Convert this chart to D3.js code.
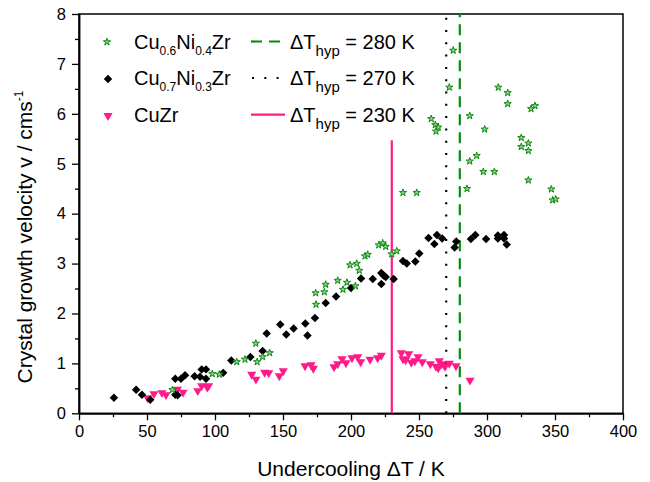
<!DOCTYPE html>
<html>
<head>
<meta charset="utf-8">
<script src="https://cdn.jsdelivr.net/npm/d3@7"></script>
<style>
  html, body { margin: 0; padding: 0; background: #fff; }
  svg { display: block; font-family: "Liberation Sans", Arial, sans-serif; }
</style>
</head>
<body>
<svg id="chart" width="650" height="482"></svg>
<script>
// ---------- data ----------
const xTicks = [0, 50, 100, 150, 200, 250, 300, 350, 400];
const yTicks = [0, 1, 2, 3, 4, 5, 6, 7, 8];

// Cu0.6Ni0.4Zr (green stars)
const cu06X = [68.7, 98, 103.2, 116, 122, 130, 131, 135, 140.2, 174, 174.3, 180.4, 181.4, 190.2, 194.1, 197, 203.2, 199.3, 204.2, 206.1, 210.3, 212.3, 220.4, 223.3, 225.5, 229.9, 233.6, 238.2, 248.3, 259, 262, 264.2, 262.5, 272.3, 275.2, 285.3, 287.3, 287.3, 292.4, 298.3, 297.3, 305.4, 308.3, 315.2, 315.2, 325.2, 325.2, 330.4, 330.4, 330.4, 332.4, 335.3, 347.3, 348.3, 350.5];
const cu06Y = [0.47, 0.79, 0.78, 1.03, 1.08, 1.40, 1.03, 1.13, 1.21, 2.41, 2.18, 2.43, 2.58, 2.66, 2.48, 2.62, 2.55, 2.97, 3.0, 2.86, 3.15, 3.18, 3.37, 3.41, 3.34, 3.19, 3.25, 4.42, 4.42, 5.90, 5.78, 5.73, 5.65, 6.53, 7.27, 4.50, 5.96, 5.05, 5.16, 5.69, 4.84, 4.84, 6.53, 6.42, 6.20, 5.52, 5.34, 5.41, 5.26, 4.67, 6.10, 6.16, 4.49, 4.27, 4.29];

// Cu0.7Ni0.3Zr (black diamonds)
const cu07X = [25.7, 42, 46.3, 52.4, 70.8, 70.8, 72.5, 75, 78, 85, 89, 90.2, 93.4, 93.4, 106, 112, 126, 135, 138, 148, 152.4, 157.8, 166.4, 168, 173.5, 181.4, 189, 200, 207.4, 216, 222.3, 224, 225.5, 222.3, 231.4, 238.2, 241, 247.3, 250.2, 257, 261.3, 263.2, 267, 276.2, 277.4, 288.2, 291.4, 299.3, 308, 308, 312.5, 312.5, 314.5];
const cu07Y = [0.31, 0.47, 0.37, 0.27, 0.69, 0.37, 0.36, 0.69, 0.76, 0.74, 0.73, 0.88, 0.88, 0.69, 0.81, 1.06, 1.13, 1.25, 1.60, 1.78, 1.58, 1.70, 1.80, 1.56, 1.91, 2.21, 2.34, 2.51, 2.70, 2.69, 2.81, 2.76, 2.73, 2.59, 2.69, 3.05, 3.0, 3.04, 3.20, 3.51, 3.39, 3.57, 3.50, 3.32, 3.44, 3.49, 3.57, 3.49, 3.56, 3.50, 3.57, 3.50, 3.38];

// CuZr (pink triangles)
const cuzrX = [50.4, 55.1, 61, 64, 72.3, 76.5, 87.3, 90.2, 94.3, 95.3, 127, 130.1, 136.5, 139.5, 147.3, 150.2, 166.2, 170.6, 172.3, 187.5, 190.2, 193.4, 196.3, 200.7, 204.9, 207.1, 214, 219.6, 222.3, 237, 242.4, 238.2, 240.2, 244.3, 247, 249.3, 252.4, 258.3, 262.5, 264.9, 264.2, 266.7, 269.1, 272.3, 277.2, 287.5];
const cuzrY = [0.31, 0.39, 0.41, 0.37, 0.48, 0.42, 0.45, 0.55, 0.52, 0.55, 0.78, 0.68, 0.82, 0.81, 0.75, 0.85, 0.95, 0.97, 0.90, 0.93, 0.99, 1.09, 1.01, 1.11, 1.13, 1.03, 1.08, 1.11, 1.16, 1.21, 1.19, 1.09, 1.07, 1.02, 1.05, 1.13, 1.03, 0.99, 0.94, 1.05, 0.91, 0.99, 0.94, 1.0, 0.95, 0.66];

// hypercooling limits
const hypT = [280, 270, 230];
const hypTop = [8, 8, 5.47];
const hypLabels = ["280 K", "270 K", "230 K"];

// ---------- layout ----------
const svg = d3.select("#chart");
const L = 79, R = 623, T = 14, B = 413.3;
const x = d3.scaleLinear().domain([0, 400]).range([L, R]);
const y = d3.scaleLinear().domain([0, 8]).range([B, T]);

const GREEN = "#0a8a0a", PINK = "#ff1a8c", BLACK = "#000";

// frame
svg.append("rect").attr("x", L).attr("y", T).attr("width", R - L).attr("height", B - T)
  .attr("fill", "none").attr("stroke", "#000").attr("stroke-width", 1.5);

// axes
const xMinor = d3.range(25, 400, 50);
const yMinor = d3.range(0.5, 8, 1);
svg.append("g").attr("transform", `translate(0,${B})`)
  .call(d3.axisBottom(x).tickValues(xTicks).tickSize(7).tickSizeOuter(0).tickPadding(5).tickFormat(d3.format("d")));
svg.append("g").attr("transform", `translate(0,${B})`)
  .call(d3.axisBottom(x).tickValues(xMinor).tickSize(4).tickSizeOuter(0).tickFormat(""));
svg.append("g").attr("transform", `translate(${L},0)`)
  .call(d3.axisLeft(y).tickValues(yTicks).tickSize(7).tickSizeOuter(0).tickPadding(6).tickFormat(d3.format("d")));
svg.append("g").attr("transform", `translate(${L},0)`)
  .call(d3.axisLeft(y).tickValues(yMinor).tickSize(4).tickSizeOuter(0).tickFormat(""));
svg.selectAll(".domain").attr("stroke", "#000").attr("stroke-width", 1.5);
svg.selectAll(".tick line").attr("stroke", "#000").attr("stroke-width", 1.3);
svg.selectAll(".tick text").attr("font-size", 16.5).attr("fill", "#000")
  .attr("font-family", "'Liberation Sans', Arial, sans-serif");

// axis titles
svg.append("text").attr("x", (L + R) / 2).attr("y", 476).attr("text-anchor", "middle")
  .attr("font-size", 21).text("Undercooling \u0394T / K");
const yt = svg.append("text").attr("transform", "translate(32,237) rotate(-90)")
  .attr("text-anchor", "middle").attr("font-size", 21);
yt.append("tspan").text("Crystal growth velocity v / cms");
yt.append("tspan").attr("dy", -9).attr("font-size", 12).text("-1");

// vertical hypercooling lines
const hypStyle = [
  { color: GREEN, dash: "11,7", w: 2.2 },
  { color: BLACK, dash: "2,10.3", w: 2.2 },
  { color: PINK, dash: null, w: 2.2 }
];
hypT.forEach((t, i) => {
  svg.append("line").attr("x1", x(t)).attr("x2", x(t)).attr("y1", y(0)).attr("y2", y(hypTop[i]))
    .attr("stroke", hypStyle[i].color).attr("stroke-width", hypStyle[i].w)
    .attr("stroke-dasharray", hypStyle[i].dash);
});

// markers
const star = d3.symbol().type(d3.symbolStar).size(16);
const diamond = d3.symbol().type(d3.symbolSquare).size(36);
const tri = d3.symbol().type(d3.symbolTriangle).size(36);

function drawStar(g, px, py) {
  g.append("path").attr("d", star()).attr("transform", `translate(${px},${py})`)
    .attr("fill", "#8fcf8f").attr("stroke", GREEN).attr("stroke-width", 1);
}
function drawDiamond(g, px, py) {
  g.append("path").attr("d", diamond()).attr("transform", `translate(${px},${py}) rotate(45)`)
    .attr("fill", "#000");
}
function drawTri(g, px, py) {
  g.append("path").attr("d", tri()).attr("transform", `translate(${px},${py}) rotate(180)`)
    .attr("fill", PINK);
}

const gp = svg.append("g");
cuzrX.forEach((v, i) => drawTri(gp, x(v), y(cuzrY[i])));
cu07X.forEach((v, i) => drawDiamond(gp, x(v), y(cu07Y[i])));
cu06X.forEach((v, i) => drawStar(gp, x(v), y(cu06Y[i])));

// legend
const rows = [48.5, 85, 121.7];
const lg = svg.append("g");
drawStar(lg, 107, rows[0] - 6.5);
drawDiamond(lg, 108, rows[1] - 6);
drawTri(lg, 108, rows[2] - 6);

function compLabel(yb, parts) {
  const t = lg.append("text").attr("x", 134).attr("y", yb).attr("font-size", 20);
  parts.forEach(p => {
    const s = t.append("tspan").text(p[0]);
    if (p[1] === "sub") s.attr("font-size", 12).attr("dy", 6);
    else if (p[1] === "back") s.attr("dy", -6);
  });
}
compLabel(rows[0], [["Cu"], ["0.6", "sub"], ["Ni", "back"], ["0.4", "sub"], ["Zr", "back"]]);
compLabel(rows[1], [["Cu"], ["0.7", "sub"], ["Ni", "back"], ["0.3", "sub"], ["Zr", "back"]]);
compLabel(rows[2], [["CuZr"]]);

hypT.forEach((t, i) => {
  const yl = rows[i] - 7;
  lg.append("line").attr("x1", i === 1 ? 252 : 251).attr("x2", 285).attr("y1", yl).attr("y2", yl)
    .attr("stroke", hypStyle[i].color).attr("stroke-width", hypStyle[i].w)
    .attr("stroke-dasharray", hypStyle[i].dash);
  const tx = lg.append("text").attr("x", 290).attr("y", rows[i]).attr("font-size", 20);
  tx.append("tspan").text("\u0394T");
  tx.append("tspan").attr("font-size", 15).attr("dy", 7).text("hyp");
  tx.append("tspan").attr("dy", -7).text(" = " + hypLabels[i]);
});
</script>
</body>
</html>
